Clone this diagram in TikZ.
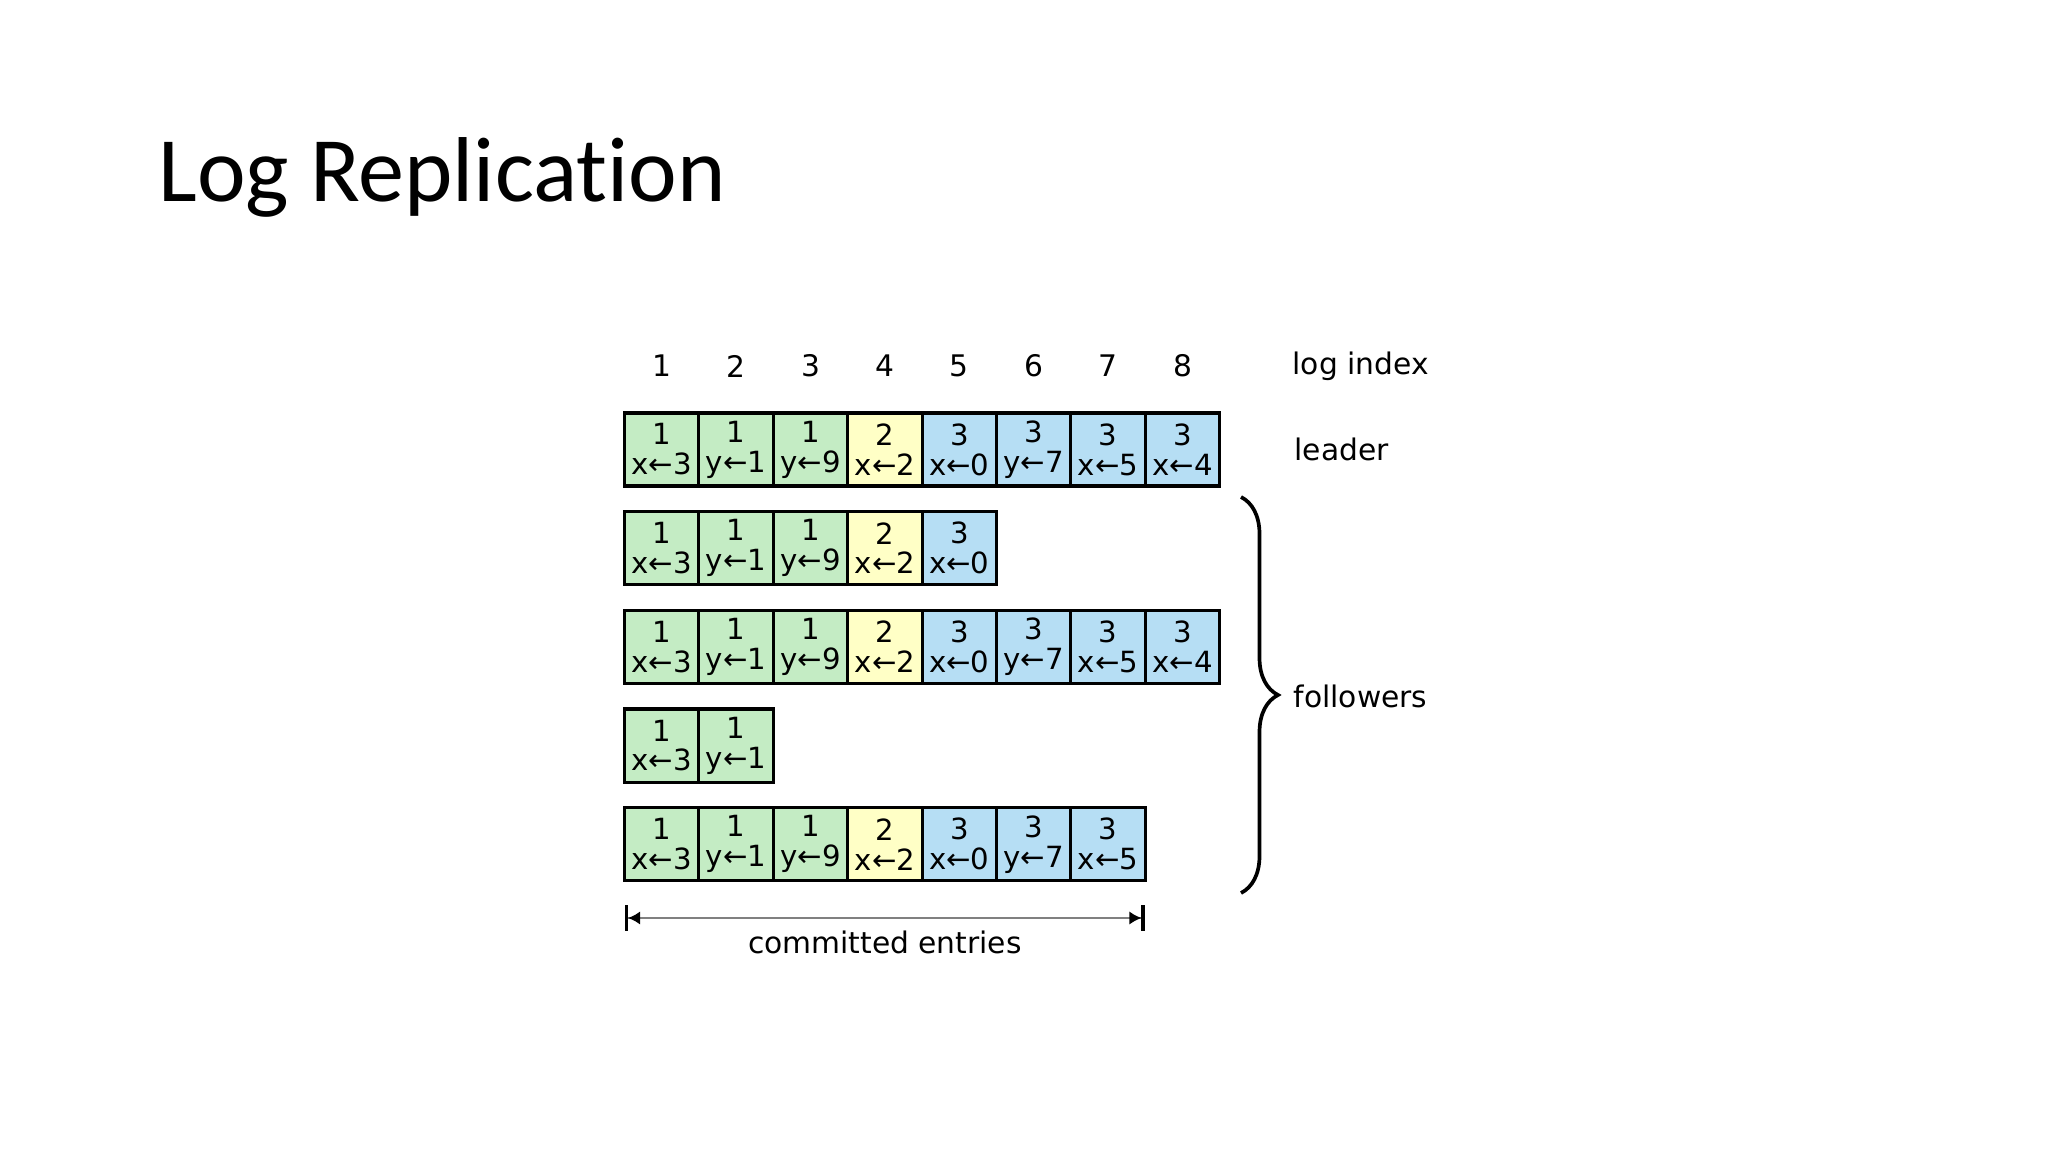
\documentclass[tikz,border=0pt]{standalone}
\usepackage{fontspec}
\setmainfont{DejaVu Sans}
\newfontfamily\titlefont[Ligatures=NoCommon]{Carlito}
\usepackage{tikz}
\usetikzlibrary{arrows.meta, decorations.pathreplacing}

\definecolor{termone}{RGB}{196,236,196}
\definecolor{termtwo}{RGB}{255,255,198}
\definecolor{termthree}{RGB}{182,222,244}

\begin{document}
\begin{tikzpicture}[x=0.01cm, y=-0.01cm,
  cell/.style={draw, line width=0.9pt, minimum width=0.744cm, minimum height=0.73cm,
    inner sep=0pt, outer sep=0pt, align=center, font=\fontsize{8.3}{8.5}\selectfont},
  lbl/.style={inner sep=0pt, font=\fontsize{8.45}{8.45}\selectfont}]
\useasboundingbox (0,0) rectangle (2048,1152);

\node[anchor=base west, inner sep=0pt, font=\titlefont\fontsize{26.2}{26.2}\selectfont] (title) at (158,202) {Log Replication};

% log index
\node[lbl] (idx1) at (661.7,366) {1};
\node[lbl] (idx2) at (736.1,366) {2};
\node[lbl] (idx3) at (810.5,366) {3};
\node[lbl] (idx4) at (884.9,366) {4};
\node[lbl] (idx5) at (959.3,366) {5};
\node[lbl] (idx6) at (1033.7,366) {6};
\node[lbl] (idx7) at (1108.1,366) {7};
\node[lbl] (idx8) at (1182.5,366) {8};
\node[lbl, anchor=west] (idxlbl) at (1292,366) {log index};

% leader
\node[cell, fill=termone] (ldr1) at (661.7,449.5) {1\\x←3};
\node[cell, fill=termone] (ldr2) at (736.1,449.5) {1\\y←1};
\node[cell, fill=termone] (ldr3) at (810.5,449.5) {1\\y←9};
\node[cell, fill=termtwo] (ldr4) at (884.9,449.5) {2\\x←2};
\node[cell, fill=termthree] (ldr5) at (959.3,449.5) {3\\x←0};
\node[cell, fill=termthree] (ldr6) at (1033.7,449.5) {3\\y←7};
\node[cell, fill=termthree] (ldr7) at (1108.1,449.5) {3\\x←5};
\node[cell, fill=termthree] (ldr8) at (1182.5,449.5) {3\\x←4};
\node[lbl, anchor=west] (ldrlbl) at (1294,449.5) {leader};

% followers
\node[cell, fill=termone] (fa1) at (661.7,548.2) {1\\x←3};
\node[cell, fill=termone] (fa2) at (736.1,548.2) {1\\y←1};
\node[cell, fill=termone] (fa3) at (810.5,548.2) {1\\y←9};
\node[cell, fill=termtwo] (fa4) at (884.9,548.2) {2\\x←2};
\node[cell, fill=termthree] (fa5) at (959.3,548.2) {3\\x←0};

\node[cell, fill=termone] (fb1) at (661.7,646.9) {1\\x←3};
\node[cell, fill=termone] (fb2) at (736.1,646.9) {1\\y←1};
\node[cell, fill=termone] (fb3) at (810.5,646.9) {1\\y←9};
\node[cell, fill=termtwo] (fb4) at (884.9,646.9) {2\\x←2};
\node[cell, fill=termthree] (fb5) at (959.3,646.9) {3\\x←0};
\node[cell, fill=termthree] (fb6) at (1033.7,646.9) {3\\y←7};
\node[cell, fill=termthree] (fb7) at (1108.1,646.9) {3\\x←5};
\node[cell, fill=termthree] (fb8) at (1182.5,646.9) {3\\x←4};

\node[cell, fill=termone] (fc1) at (661.7,745.6) {1\\x←3};
\node[cell, fill=termone] (fc2) at (736.1,745.6) {1\\y←1};

\node[cell, fill=termone] (fd1) at (661.7,844.3) {1\\x←3};
\node[cell, fill=termone] (fd2) at (736.1,844.3) {1\\y←1};
\node[cell, fill=termone] (fd3) at (810.5,844.3) {1\\y←9};
\node[cell, fill=termtwo] (fd4) at (884.9,844.3) {2\\x←2};
\node[cell, fill=termthree] (fd5) at (959.3,844.3) {3\\x←0};
\node[cell, fill=termthree] (fd6) at (1033.7,844.3) {3\\y←7};
\node[cell, fill=termthree] (fd7) at (1108.1,844.3) {3\\x←5};

\coordinate (bt) at (1241,497);
\coordinate (bb) at (1241,893);
\draw[line width=1.05pt, decorate, decoration={brace, amplitude=0.37cm}] (bt) -- (bb);
\node[lbl, anchor=west] (follbl) at (1293,696) {followers};

% committed
\coordinate (cl) at (624.5,918);
\coordinate (cr) at (1145,918);
\draw[gray, line width=0.45pt,
  {Bar[black, width=0.25cm, line width=1pt]Latex[black, length=0.12cm, width=0.13cm]}-{Latex[black, length=0.12cm, width=0.13cm]Bar[black, width=0.25cm, line width=1pt]}]
  (cl) -- (cr);
\node[lbl] (cmtlbl) at (884.9,942) {committed entries};
\end{tikzpicture}
\end{document}
